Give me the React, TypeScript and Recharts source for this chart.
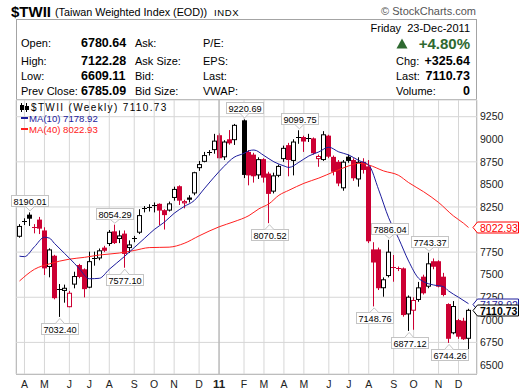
import React from "react";
import {
  Bar,
  CartesianGrid,
  ComposedChart,
  Line,
  ReferenceDot,
  ReferenceLine,
  XAxis,
  YAxis,
} from "recharts";

const FONT = '"Liberation Sans", Arial, sans-serif';
const RED = "#cc0033";
const MA10_COLOR = "#1c1c9c";
const MA40_COLOR = "#ff2020";
const GRID = "#d6d6d6";
const FRAME = "#a4a4a4";

// weekly bars, one slot per week (Mon 29-Mar-2010 .. Mon 19-Dec-2011); slot 44 = lunar new year, no trading
const opens = [
  7920, 8085, 8165, 8030, 8110, 7990, 7585, 7710, 7330, 7320, 7140, 7390, 7607, 7560, 7356, 7675, 7680, 7800, 7840, 7980,
  7895, 7955, 7795, 7895, 7965, 8230, 8245, 8275, 8285, 8215, 8210, 8350, 8480, 8290, 8355, 8400, 8680, 8750, 8845, 8880,
  9045, 8800, 9000, 8990, null, 9210, 8860, 8830, 8600, 8780, 8620, 8420, 8595, 8780, 8935, 8760, 9020, 9025, 9005, 9010,
  8780, 8770, 9040, 8805, 8750, 8457, 8807, 8770, 8555, 8750, 8700, 7780, 7780, 7350, 7485, 7590, 7560, 7570, 7060, 7101,
  7220, 7478, 7367, 7649, 7649, 7478, 7175, 6851, 6997, 6990, 6790,
];
const highs = [
  8060, 8125, 8190.01, 8060, 8140, 8025, 7792, 7720, 7397, 7390, 7320, 7533, 7620, 7570, 7755, 7755, 7790, 7820, 7995, 8054.29,
  7990, 7990, 7880, 7930, 8225, 8260, 8280, 8300, 8290, 8225, 8310, 8475, 8490, 8330, 8380, 8640, 8760, 8860, 8880, 9060,
  9066, 8990, 9102, 9170, null, 9220.69, 8880, 8850, 8800, 8790, 8640, 8630, 8720, 8930, 8960, 9000, 9099.75, 9040, 9060, 9020,
  8830, 9090, 9050, 8820, 8770, 8770, 8830, 8790, 8800, 8790, 8770, 7860, 7800, 7470, 7886.04, 7718, 7590, 7580, 7270, 7250,
  7420, 7500, 7743.37, 7680, 7660, 7520, 7183, 7208, 7010, 7023, 7122.28,
];
const lows = [
  7910, 8050, 8040, 7958, 7950, 7497, 7471, 7227, 7032.4, 7190, 7139, 7349, 7460, 7249, 7350, 7600, 7660, 7750, 7818, 7840,
  7850, 7577.1, 7740, 7860, 7950, 8190, 8200, 8190, 8050, 8000, 8200, 8320, 8272, 8235, 8300, 8380, 8650, 8745, 8820, 8840,
  8789, 8770, 8940, 8937, null, 8570, 8490, 8520, 8560, 8520, 8070.52, 8400, 8580, 8750, 8590, 8600, 8950, 8860, 8970, 8830,
  8695, 8760, 8790, 8600, 8480, 8430, 8740, 8540, 8475, 8620, 7850, 7148.76, 7330, 7256, 7470, 7422, 7540, 7035, 6877.12, 6890,
  7200, 7280, 7350, 7560, 7360, 7260, 6744.26, 6840, 6790, 6777, 6609.11,
];
const closes = [
  8040, 8100, 8120, 8020, 8010, 7570, 7780, 7240, 7340, 7355, 7300, 7485, 7475, 7340, 7650, 7690, 7770, 7765, 7975, 7850,
  7935, 7730, 7835, 7905, 8160, 8240, 8255, 8262, 8210, 8160, 8290, 8450, 8320, 8315, 8330, 8635, 8725, 8825, 8860, 8985,
  8790, 8975, 8955, 9160, null, 8605, 8600, 8590, 8780, 8575, 8395, 8600, 8705, 8905, 8770, 8975, 9005, 8975, 9010, 8845,
  8815, 9055, 8807, 8640, 8510, 8752, 8760, 8568, 8750, 8660, 7870, 7635, 7350, 7449, 7755, 7580, 7575, 7053, 7256, 7220,
  7360, 7294, 7626, 7588, 7367, 7275, 6790, 7153, 6813, 6785.09, 7110.73,
];

// moving averages at these week slots
const ma10Idx = [0, 1, 3, 5, 6, 7, 9, 11, 12, 14, 16, 18, 21, 23, 25, 27, 29, 31, 33, 35, 37, 39, 41, 43, 45, 46, 47, 49, 51, 53, 54, 56, 58, 60, 62, 64, 66, 68, 70, 72, 74, 76, 78, 80, 81, 83, 85, 86, 88, 90];
const ma10Val = [7705, 7700, 7810, 7915, 7905, 7847, 7737, 7626, 7565, 7455, 7460, 7560, 7700, 7800, 7900, 8000, 8080, 8180, 8255, 8320, 8450, 8580, 8700, 8800, 8844, 8873, 8881, 8820, 8750, 8705, 8688, 8745, 8815, 8860, 8912, 8860, 8826, 8765, 8715, 8440, 8130, 7900, 7650, 7460, 7422, 7386, 7367, 7320, 7250, 7178.92];
const ma40Idx = [0, 3, 6, 10, 13, 16, 20, 23, 26, 30, 33, 36, 40, 43, 46, 48, 50, 52, 54, 57, 60, 63, 66, 68, 70, 73, 76, 78, 81, 84, 87, 89, 90];
const ma40Val = [7430, 7560, 7620, 7672, 7692, 7718, 7740, 7768, 7800, 7805, 7847, 7930, 8030, 8087, 8155, 8230, 8285, 8380, 8435, 8512, 8570, 8640, 8705, 8734, 8715, 8649, 8600, 8520, 8419, 8300, 8150, 8070, 8022.93];

const monthTicks = [1, 5, 10, 14, 18, 23, 27, 31, 36, 40, 45, 49, 53, 57, 62, 66, 70, 75, 79, 84, 88];
const monthLabels = ["A", "M", "J", "J", "A", "S", "O", "N", "D", "11", "F", "M", "A", "M", "J", "J", "A", "S", "O", "N", "D"];
const priceTicks = [6500, 6750, 7000, 7250, 7500, 7750, 8000, 8250, 8500, 8750, 9000, 9250];

const peakIdx = [2, 19, 45, 56, 74, 82];
const peakVal = [8190.01, 8054.29, 9220.69, 9099.75, 7886.04, 7743.37];
const troughIdx = [8, 21, 50, 71, 78, 86];
const troughVal = [7032.4, 7577.1, 8070.52, 7148.76, 6877.12, 6744.26];

const lastClose = 7110.73;
const lastMa10 = 7178.92;
const lastMa40 = 8022.93;

const rows = opens.map((o, i) => {
  const a = ma10Idx.indexOf(i);
  const b = ma40Idx.indexOf(i);
  return {
    i,
    open: o,
    high: highs[i],
    low: lows[i],
    close: closes[i],
    prev: i > 0 ? closes[i - 1] : null,
    range: o == null ? null : [lows[i], highs[i]],
    ma10: a >= 0 ? ma10Val[a] : null,
    ma40: b >= 0 ? ma40Val[b] : null,
  };
});

const CHART_MARGIN = { top: 100, right: 3, bottom: 0, left: 16 };
const X_PAD = { left: 1, right: 6 };
const Y_DOMAIN = [6400, 9435];

function Candle(props: any) {
  const { x, y, width, height, payload } = props;
  if (!payload || payload.open == null || x == null || y == null) return null;
  const { open, high, low, close, prev } = payload;
  const top = height < 0 ? y + height : y;
  const span = Math.abs(height);
  const k = span / (high - low || 1);
  const cx = Math.round(x + width / 2 - 0.5);
  const toY = (v: number) => top + (high - v) * k;
  const color = prev == null || close >= prev ? "#000" : RED;
  const filled = close < open;
  const bTop = toY(Math.max(open, close));
  const bBot = toY(Math.min(open, close));
  const bh = bBot - bTop;
  let body;
  if (bh < 1.5) {
    const yy = Math.round(bTop) + 0.5;
    body = <line x1={cx - 2} x2={cx + 3} y1={yy} y2={yy} stroke={color} />;
  } else if (filled) {
    body = <rect x={cx - 2} y={bTop} width={5} height={bh} fill={color} />;
  } else {
    body = <rect x={cx - 1.5} y={bTop + 0.5} width={4} height={bh - 1} fill="#fff" stroke={color} />;
  }
  return (
    <g>
      <line x1={cx + 0.5} x2={cx + 0.5} y1={top} y2={top + span} stroke={color} />
      {body}
    </g>
  );
}

function ValueTag({ cx, cy, text, below }: any) {
  if (cx == null || cy == null) return null;
  const w = 37;
  const h = 11;
  const bx = Math.round(cx) - 18;
  const by = below ? Math.round(cy) + 6 : Math.round(cy) - 6 - h;
  const edge = below ? by : by + h;
  const tip = below ? cy + 1.5 : cy - 1.5;
  return (
    <g>
      <rect x={bx + 0.5} y={by + 0.5} width={w} height={h} fill="#fff" stroke="#c4c4c4" />
      <polyline
        points={`${cx - 4},${edge + 0.5} ${cx + 0.5},${tip} ${cx + 5},${edge + 0.5}`}
        fill="#fff"
        stroke="#c4c4c4"
      />
      <text x={bx + w / 2 + 0.5} y={by + 9.5} textAnchor="middle" fontSize={9.2} fontFamily={FONT} fill="#000">
        {text}
      </text>
    </g>
  );
}

function AxisTag({ cy, text, color, bold }: any) {
  if (cy == null) return null;
  const y0 = Math.round(cy);
  return (
    <g>
      <polygon
        points={`473,${y0 + 0.5} 477.5,${y0 - 5} 518.5,${y0 - 5} 518.5,${y0 + 6} 477.5,${y0 + 6}`}
        fill="#fff"
        stroke={color}
      />
      <text x={480} y={y0 + 4.5} fontSize={10.5} fontWeight={bold ? 700 : 400} fontFamily={FONT} fill={color}>
        {text}
      </text>
    </g>
  );
}

function MonthTick({ x, y, payload }: any) {
  const k = monthTicks.indexOf(payload.value);
  const label = k >= 0 ? monthLabels[k] : "";
  const isYear = label === "11";
  return (
    <text
      x={x}
      y={y + 12}
      textAnchor="middle"
      fontSize={isYear ? 11.5 : 10.5}
      fontWeight={isYear ? 700 : 400}
      fontFamily={FONT}
      fill="#222"
    >
      {label}
    </text>
  );
}

function T({ x, y, children, size = 11, bold = false, right = false, color = "#000", style = {} }: any) {
  const lh = size + 4;
  const pos: any = right ? { right: 520 - x } : { left: x };
  return (
    <div
      style={{
        position: "absolute",
        top: y - lh / 2,
        ...pos,
        fontSize: size,
        lineHeight: `${lh}px`,
        fontWeight: bold ? 700 : 400,
        color,
        whiteSpace: "nowrap",
        fontFamily: FONT,
        ...style,
      }}
    >
      {children}
    </div>
  );
}

function Header() {
  const rowY = [43.5, 61, 76.5, 91.5];
  const labels = ["Open:", "High:", "Low:", "Prev Close:"];
  const values = ["6780.64", "7122.28", "6609.11", "6785.09"];
  const col2 = ["Ask:", "Ask Size:", "Bid:", "Bid Size:"];
  const col3 = ["P/E:", "EPS:", "Last:", "VWAP:"];
  return (
    <>
      <T x={11} y={11} size={15} bold>
        $TWII
      </T>
      <T x={55} y={12} size={10.8}>
        (Taiwan Weighted Index (EOD))
      </T>
      <T x={214} y={12.5} size={9.5} style={{ letterSpacing: 0.6 }}>
        INDX
      </T>
      <T x={476} y={11.5} size={11} right color="#555">
        © StockCharts.com
      </T>
      {rowY.map((y, k) => (
        <React.Fragment key={k}>
          <T x={21} y={y} size={11}>
            {labels[k]}
          </T>
          <T x={81} y={y} size={12.5} bold>
            {values[k]}
          </T>
          <T x={135} y={y} size={11}>
            {col2[k]}
          </T>
          <T x={203} y={y} size={11}>
            {col3[k]}
          </T>
        </React.Fragment>
      ))}
      <T x={470} y={28.5} size={11} right style={{ whiteSpace: "pre" }}>
        {"Friday  23-Dec-2011"}
      </T>
      <svg style={{ position: "absolute", left: 396, top: 38 }} width={12} height={11}>
        <polygon points="6,0.5 11.5,10.5 0.5,10.5" fill="#2e6930" />
      </svg>
      <T x={470} y={43.5} size={15} bold right color="#2e6930">
        +4.80%
      </T>
      <T x={396} y={61} size={11}>
        Chg:
      </T>
      <T x={470} y={61} size={12.5} bold right>
        +325.64
      </T>
      <T x={396} y={76.5} size={11}>
        Last:
      </T>
      <T x={470} y={76.5} size={12.5} bold right>
        7110.73
      </T>
      <T x={396} y={91.5} size={11}>
        Volume:
      </T>
      <T x={470} y={91.5} size={12.5} bold right>
        0
      </T>
    </>
  );
}

function Legend() {
  return (
    <>
      <svg style={{ position: "absolute", left: 20, top: 103 }} width={9} height={9}>
        <line x1={1.5} x2={1.5} y1={0} y2={9} stroke="#000" />
        <rect x={0} y={2} width={4} height={5} fill="#000" />
        <line x1={6.5} x2={6.5} y1={0} y2={9} stroke="#000" />
        <rect x={5} y={3} width={4} height={4} fill="#000" />
      </svg>
      <T x={31} y={107.5} size={10} style={{ letterSpacing: 1.35 }}>
        $TWII (Weekly) 7110.73
      </T>
      <div style={{ position: "absolute", left: 21, top: 117, width: 7, height: 2, background: MA10_COLOR }} />
      <T x={29} y={118.5} size={9.6} color={MA10_COLOR}>
        MA(10) 7178.92
      </T>
      <div style={{ position: "absolute", left: 21, top: 128, width: 7, height: 2, background: MA40_COLOR }} />
      <T x={29} y={129.3} size={9.6} color={MA40_COLOR}>
        MA(40) 8022.93
      </T>
    </>
  );
}

// same layout as the main chart, drawn on top so the last-value tags cover the price axis labels
function TagLayer() {
  return (
    <ComposedChart width={520} height={391} data={rows} margin={CHART_MARGIN}>
      <XAxis
        dataKey="i"
        type="category"
        interval={0}
        padding={X_PAD}
        height={17}
        axisLine={false}
        tickLine={false}
        tick={false}
      />
      <YAxis
        orientation="right"
        domain={Y_DOMAIN}
        allowDataOverflow
        width={40}
        axisLine={false}
        tickLine={false}
        tick={false}
      />
      <ReferenceDot
        x={90}
        y={lastMa40}
        ifOverflow="visible"
        shape={(p: any) => <AxisTag {...p} text={lastMa40.toFixed(2)} color="#ff0000" />}
      />
      <ReferenceDot
        x={90}
        y={lastMa10}
        ifOverflow="visible"
        shape={(p: any) => <AxisTag {...p} text={lastMa10.toFixed(2)} color={MA10_COLOR} />}
      />
      <ReferenceDot
        x={90}
        y={lastClose}
        ifOverflow="visible"
        shape={(p: any) => <AxisTag {...p} text={lastClose.toFixed(2)} color="#000" bold />}
      />
    </ComposedChart>
  );
}

export default function App() {
  return (
    <div
      style={{
        position: "absolute",
        left: 0,
        top: 0,
        width: 520,
        height: 391,
        background: "#fff",
        overflow: "hidden",
        fontFamily: FONT,
      }}
    >
      <div
        style={{
          position: "absolute",
          left: 16,
          top: 19,
          width: 461,
          height: 356,
          border: `1px solid ${FRAME}`,
          boxSizing: "border-box",
        }}
      />
      <div style={{ position: "absolute", left: 16, top: 99, width: 461, height: 1, background: FRAME }} />
      <Header />
      <div style={{ position: "absolute", left: 0, top: 0 }}>
        <ComposedChart width={520} height={391} data={rows} margin={CHART_MARGIN}>
          <CartesianGrid stroke={GRID} />
          <XAxis
            xAxisId="minor"
            dataKey="i"
            type="category"
            interval={0}
            padding={X_PAD}
            height={0}
            axisLine={false}
            tick={false}
            tickSize={2}
            tickLine={{ stroke: "#888" }}
          />
          <XAxis
            dataKey="i"
            type="category"
            ticks={monthTicks}
            interval={0}
            padding={X_PAD}
            height={17}
            axisLine={false}
            tickLine={false}
            tickSize={0}
            tick={<MonthTick />}
          />
          <YAxis
            orientation="right"
            domain={Y_DOMAIN}
            ticks={priceTicks}
            allowDataOverflow
            width={40}
            axisLine={false}
            tickLine={false}
            tickSize={0}
            tickMargin={3}
            tick={{ fontSize: 10.5, fill: "#222", fontFamily: FONT }}
          />
          <ReferenceLine x={40} stroke="#ababab" />
          <Line
            dataKey="ma40"
            type="monotone"
            stroke={MA40_COLOR}
            strokeWidth={1}
            dot={false}
            connectNulls
            isAnimationActive={false}
          />
          <Line
            dataKey="ma10"
            type="monotone"
            stroke={MA10_COLOR}
            strokeWidth={1}
            dot={false}
            connectNulls
            isAnimationActive={false}
          />
          <Bar dataKey="range" shape={<Candle />} isAnimationActive={false} />
          {peakIdx.map((ix, k) => (
            <ReferenceDot
              key={`p${k}`}
              x={ix}
              y={peakVal[k]}
              ifOverflow="visible"
              shape={(p: any) => <ValueTag {...p} text={peakVal[k].toFixed(2)} />}
            />
          ))}
          {troughIdx.map((ix, k) => (
            <ReferenceDot
              key={`t${k}`}
              x={ix}
              y={troughVal[k]}
              ifOverflow="visible"
              shape={(p: any) => <ValueTag {...p} text={troughVal[k].toFixed(2)} below />}
            />
          ))}
        </ComposedChart>
      </div>
      <div style={{ position: "absolute", left: 0, top: 0 }}>
        <TagLayer />
      </div>
      <Legend />
    </div>
  );
}
